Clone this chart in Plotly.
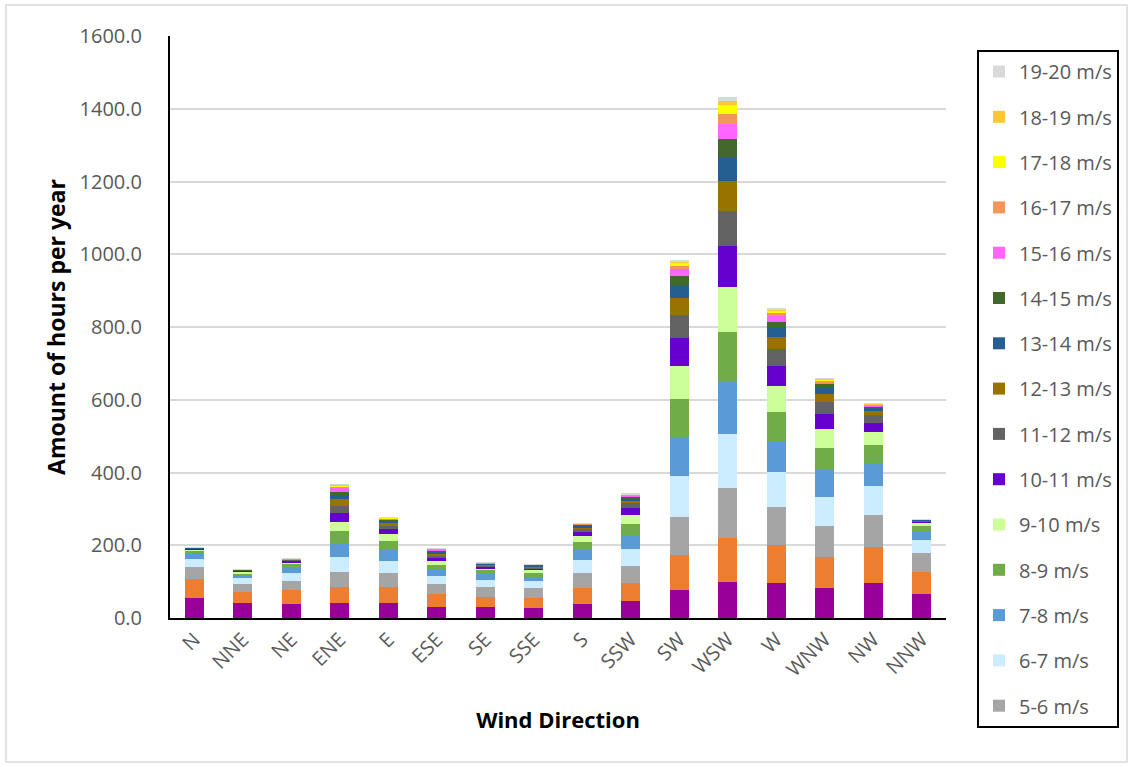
import plotly.graph_objects as go

# Wind direction sectors
directions = ["N", "NNE", "NE", "ENE", "E", "ESE", "SE", "SSE",
              "S", "SSW", "SW", "WSW", "W", "WNW", "NW", "NNW"]

# Hours per year in each wind-speed bin, per direction (N ... NNW)
speed_0_4 = [56, 40, 39, 42, 42, 31, 30, 27.5, 38.5, 47.7, 78, 98, 97, 82.5, 97, 65]
speed_4_5 = [50, 31, 37, 42, 44, 36, 28.5, 28.5, 45, 49.5, 96, 122.8, 104.5, 86, 98, 62]
speed_5_6 = [35, 23, 27, 43, 38.6, 27.5, 25.7, 25.5, 41, 46.7, 104.5, 137.5, 103.6, 84.3, 89, 50.5]
speed_6_7 = [22, 16, 22, 40, 32, 21, 21.2, 19.3, 35, 46.7, 113, 146.7, 95.3, 79.7, 78, 36.5]
speed_7_8 = [15, 8, 13.5, 39, 31.2, 18.3, 16.5, 12.8, 28.4, 38.4, 107, 144.7, 87, 73.4, 63, 25]
speed_8_9 = [7, 5.5, 10.5, 32, 23.8, 12.8, 9, 11, 22, 29.4, 103.5, 137.5, 79.7, 62.2, 49.5, 13.7]
speed_9_10 = [4, 4, 4.5, 26, 18.3, 10, 5.6, 7.4, 16.5, 25.6, 91, 122.8, 70.6, 51.4, 36.5, 7.4]
speed_10_11 = [2.5, 2, 4.5, 24, 14.7, 9.2, 4.6, 4.6, 11, 17.5, 78, 113.6, 55.8, 42, 25.7, 5.5]
speed_11_12 = [0.5, 1, 1.5, 21, 9.1, 6, 3.5, 3.5, 7.3, 13.5, 61, 95.3, 45.1, 31.4, 20.2, 2]
speed_12_13 = [0.3, 0.8, 1, 18, 6.2, 5.8, 2.5, 2.6, 5.4, 8, 48.5, 82.5, 34.7, 23.6, 11.8, 1.4]
speed_13_14 = [0.2, 0.5, 0.7, 12, 5.8, 4.6, 1.8, 1.8, 3.5, 6, 34, 64.1, 25.7, 17.4, 7.4, 0.9]
speed_14_15 = [0.1, 0.3, 0.5, 8.3, 4.2, 3.6, 1.2, 1.2, 2.5, 5, 25.5, 51.3, 15.6, 9, 5.6, 0.5]
speed_15_16 = [0.1, 0.2, 0.3, 11, 3, 2.5, 0.7, 0.8, 1.5, 3, 18.5, 40.4, 14.7, 5.8, 3.6, 0.3]
speed_16_17 = [0.1, 0.1, 0.2, 2.7, 2, 1.5, 0.4, 0.5, 1, 2, 10, 29.2, 9.1, 3.6, 2, 0.2]
speed_17_18 = [0.05, 0.1, 0.1, 3.5, 1, 0.7, 0.2, 0.3, 0.5, 1, 8, 23, 8.2, 3.6, 1, 0.1]
speed_18_19 = [0.05, 0.05, 0.05, 1.5, 0.5, 0.3, 0.1, 0.1, 0.3, 0.5, 3, 11.9, 2.8, 1.5, 0.5, 0.1]
speed_19_20 = [0.05, 0.05, 0.05, 1.3, 0.3, 0.2, 0.1, 0.1, 0.2, 0.5, 3.5, 11.9, 2.7, 1.3, 0.3, 0.1]

# (name, values, colour, shown in legend)
series = [
    ("0-4 m/s", speed_0_4, "#990099", False),
    ("4-5 m/s", speed_4_5, "#ED7D31", False),
    ("5-6 m/s", speed_5_6, "#A5A5A5", True),
    ("6-7 m/s", speed_6_7, "#CCECFF", True),
    ("7-8 m/s", speed_7_8, "#5B9BD5", True),
    ("8-9 m/s", speed_8_9, "#70AD47", True),
    ("9-10 m/s", speed_9_10, "#CCFF99", True),
    ("10-11 m/s", speed_10_11, "#6600CC", True),
    ("11-12 m/s", speed_11_12, "#636363", True),
    ("12-13 m/s", speed_12_13, "#997300", True),
    ("13-14 m/s", speed_13_14, "#255E91", True),
    ("14-15 m/s", speed_14_15, "#43682B", True),
    ("15-16 m/s", speed_15_16, "#FF66FF", True),
    ("16-17 m/s", speed_16_17, "#F1975A", True),
    ("17-18 m/s", speed_17_18, "#FFFF00", True),
    ("18-19 m/s", speed_18_19, "#FFC737", True),
    ("19-20 m/s", speed_19_20, "#D9D9D9", True),
]

fig = go.Figure()
for i, (name, vals, color, show) in enumerate(series):
    fig.add_trace(go.Bar(
        x=directions, y=vals, name=name,
        marker=dict(color=color, line=dict(width=0)),
        showlegend=show, legendgroup=name,
        legendrank=1000 - i,  # fastest wind speed listed first
    ))

# Plot area: left 170, right 946, top 36, bottom 618 (pixels)
L, R, T, B = 170, 187, 36, 149
W, H = 1133, 767
pw, ph = W - L - R, H - T - B

def px_x(p):
    return (p - L) / pw

def px_y(p):
    return (H - B - p) / ph

text_grey = "#595959"

fig.update_layout(
    width=W, height=H,
    margin=dict(l=L, r=R, t=T, b=B),
    barmode="stack",
    bargap=0.6,
    plot_bgcolor="white",
    paper_bgcolor="white",
    font=dict(family="Open Sans, Liberation Sans, sans-serif", color=text_grey),
    legend=dict(
        x=px_x(977), y=px_y(50), xanchor="left", yanchor="top",
        traceorder="grouped",
        tracegroupgap=16.3,
        bordercolor="black", borderwidth=2,
        bgcolor="white",
        font=dict(size=20, color=text_grey, family="Open Sans, sans-serif"),
        itemwidth=30,
        maxheight=720,
    ),
    xaxis=dict(
        tickangle=-45,
        tickfont=dict(size=20, color=text_grey),
        showline=True, linecolor="black", linewidth=2,
        showgrid=False,
        title=dict(text="<b>Wind Direction</b>",
                   font=dict(size=22, color="black"), standoff=32),
    ),
    yaxis=dict(
        range=[0, 1600],
        tickvals=[0, 200, 400, 600, 800, 1000, 1200, 1400, 1600],
        tickformat=".1f",
        tickfont=dict(size=20, color=text_grey),
        ticklabelstandoff=22,
        showline=True, linecolor="black", linewidth=2,
        showgrid=True, gridcolor="#D9D9D9", gridwidth=2,
        zeroline=False,
        title=dict(text="<b>Amount of hours per year</b>",
                   font=dict(size=23, color="black"), standoff=8),
    ),
    shapes=[
        dict(type="rect", xref="paper", yref="paper",
             x0=px_x(6), x1=px_x(1127), y0=px_y(762), y1=px_y(5),
             line=dict(color="#D9D9D9", width=1.5), layer="below"),
    ],
)

fig.write_html("out.html")
